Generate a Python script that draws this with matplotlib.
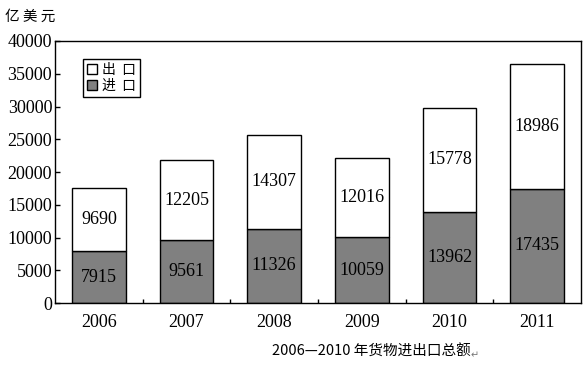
"""
Stacked bar chart: China goods import / export totals, 2006-2011.
"""

import matplotlib
matplotlib.use("Agg")
import matplotlib.pyplot as plt
from matplotlib.patches import Patch

years = ["2006", "2007", "2008", "2009", "2010", "2011"]
imports = [7915, 9561, 11326, 10059, 13962, 17435]
exports = [9690, 12205, 14307, 12016, 15778, 18986]

SERIF = ["Liberation Serif", "DejaVu Serif"]
CJK = ["Noto Sans CJK SC", "DejaVu Sans"]
GRAY = "#808080"
FS = 13

fig = plt.figure(figsize=(5.83, 3.66), dpi=100)
ax = fig.add_axes([0.0943, 0.172, 0.9023, 0.716])

pos = [i + 0.5 for i in range(len(years))]
width = 0.61

ax.bar(pos, imports, width, color=GRAY, edgecolor="black", linewidth=1)
ax.bar(pos, exports, width, bottom=imports, color="white", edgecolor="black", linewidth=1)

for x, imp, exp in zip(pos, imports, exports):
    ax.text(x, imp / 2, str(imp), ha="center", va="center", fontsize=FS, family=SERIF)
    ax.text(x, imp + exp / 2, str(exp), ha="center", va="center", fontsize=FS, family=SERIF)

ax.set_xlim(0, len(years))
ax.set_ylim(0, 40000)
ax.set_yticks(range(0, 40001, 5000))
ax.set_yticklabels([str(v) for v in range(0, 40001, 5000)], family=SERIF, fontsize=FS)
ax.tick_params(axis="y", direction="in", length=3.6, width=1, pad=2)

# boundary ticks between categories, year labels centred on bars
ax.set_xticks(range(1, len(years)))
ax.set_xticklabels([])
ax.tick_params(axis="x", which="major", direction="in", length=3, width=1)
ax.set_xticks(pos, minor=True)
ax.set_xticklabels(years, minor=True, family=SERIF, fontsize=FS)
ax.tick_params(axis="x", which="minor", length=0, pad=8)

for s in ax.spines.values():
    s.set_linewidth(1)

handles = [
    Patch(facecolor="white", edgecolor="black", linewidth=1, label="出  口"),
    Patch(facecolor=GRAY, edgecolor="black", linewidth=1, label="进  口"),
]
leg = ax.legend(handles=handles, loc="upper left", bbox_to_anchor=(0.053, 0.931),
                prop={"family": CJK, "size": 10}, frameon=True, fancybox=False,
                edgecolor="black", framealpha=1, handlelength=0.75, handleheight=0.75,
                handletextpad=0.3, borderpad=0.3, labelspacing=0.1, borderaxespad=0)
leg.get_frame().set_linewidth(1)

fig.text(0.008, 0.955, "亿 美 元", ha="left", va="center", fontsize=10.5, family=CJK)

title = fig.text(0.637, 0.038, "2006—2010 年货物进出口总额", ha="center", va="center",
                 fontsize=10.5, family=CJK)
ax.annotate("↵", xy=(1, 0.3), xycoords=title, ha="left", va="center",
            fontsize=7, color="#777777", family=["DejaVu Sans"], annotation_clip=False)

fig.savefig("out.png", dpi=100)
